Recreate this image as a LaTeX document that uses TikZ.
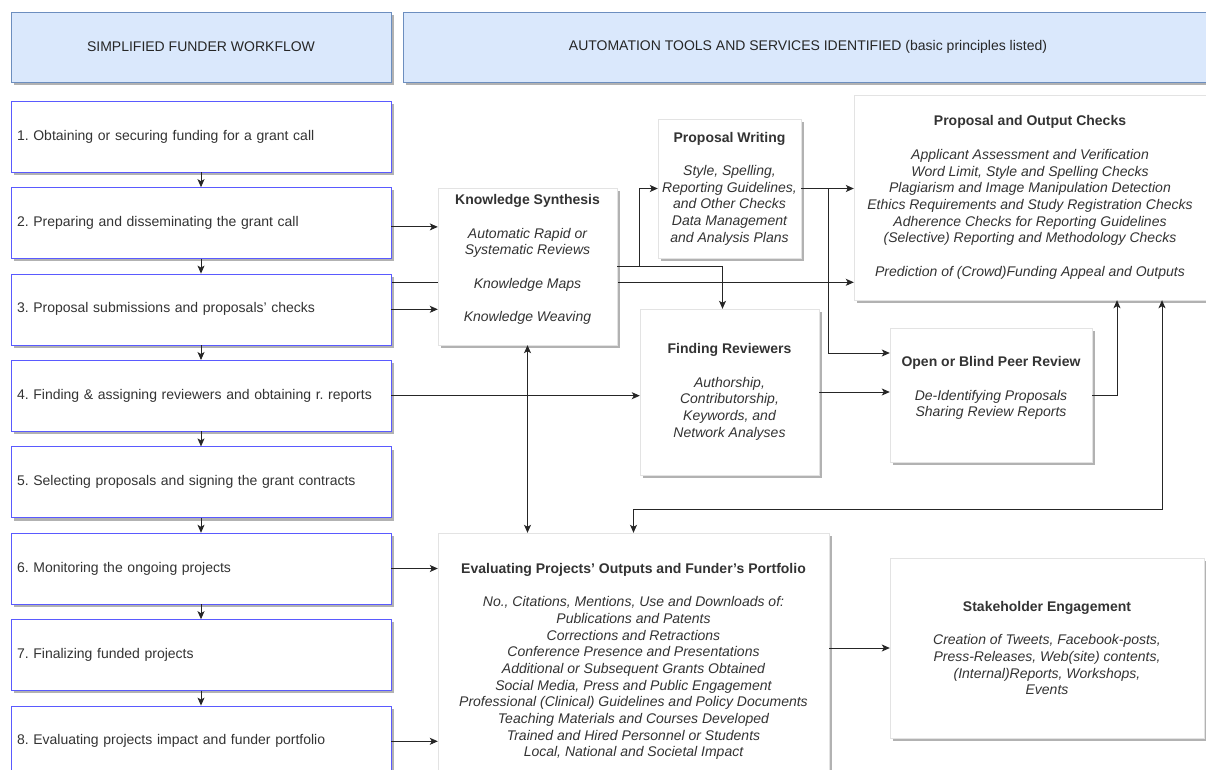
\documentclass[tikz,border=0pt]{standalone}
\usepackage{fontspec}
\setmainfont{Liberation Sans}
\usetikzlibrary{arrows.meta, positioning, shadows, backgrounds}
\definecolor{headfill}{HTML}{DAE8FC}
\definecolor{headline}{HTML}{6C8EBF}
\definecolor{stepline}{HTML}{5A5AFF}
\definecolor{toolline}{HTML}{E3E3E3}
\definecolor{textgray}{HTML}{333333}
\newcommand{\boxtitle}[1]{\textbf{\upshape #1}}
\frenchspacing

\begin{document}
\begin{tikzpicture}[
    x=1pt, y=-1pt,
    font=\fontsize{14}{16.7}\selectfont,
    >={Stealth[length=8pt, width=7pt, inset=2pt]},
    boxshadow/.style={drop shadow={shadow xshift=3pt, shadow yshift=-3pt, fill=black, opacity=0.3}},
    header/.style={rectangle, draw=headline, fill=headfill, boxshadow, minimum height=70pt, text=black!85},
    stepbox/.style={rectangle, draw=stepline, fill=white, boxshadow, minimum height=71pt, text width=368pt, inner xsep=6pt, align=left, text=textgray},
    toolbox/.style={rectangle, draw=toolline, fill=white, boxshadow, inner sep=1pt, align=center, text=textgray, font=\fontsize{14}{16.7}\selectfont\itshape},
    arrow/.style={->, line width=0.9pt, black!85}
]
\path[use as bounding box] (0,0) rectangle (1206,770);
\clip (0,0) rectangle (1206,770);

\node[header, minimum width=380pt] (hflow) at (201,47) {SIMPLIFIED FUNDER WORKFLOW};
\node[header, minimum width=810pt] (htools) at (808,47) {AUTOMATION TOOLS AND SERVICES IDENTIFIED (basic principles listed)};

\node[stepbox] (step1) at (201,136.5) {1. Obtaining or securing funding for a grant call};
\node[stepbox, below=15pt of step1] (step2) {2. Preparing and disseminating the grant call};
\node[stepbox, below=15pt of step2] (step3) {3. Proposal submissions and proposals' checks};
\node[stepbox, below=15pt of step3] (step4) {4. Finding \& assigning reviewers and obtaining r. reports};
\node[stepbox, below=15pt of step4] (step5) {5. Selecting proposals and signing the grant contracts};
\node[stepbox, below=15pt of step5] (step6) {6. Monitoring the ongoing projects};
\node[stepbox, below=15pt of step6] (step7) {7. Finalizing funded projects};
\node[stepbox, below=15pt of step7] (step8) {8. Evaluating projects impact and funder portfolio};

\node[toolbox, minimum width=179pt, minimum height=157pt] (ks) at (527.5,266.5)
    {\boxtitle{Knowledge Synthesis}\\[16.7pt]Automatic Rapid or\\Systematic Reviews\\[16.7pt]Knowledge Maps\\[16.7pt]Knowledge Weaving\\~};
\node[toolbox, minimum width=143pt, minimum height=139pt] (pw) at (729.5,188.5)
    {\boxtitle{Proposal Writing}\\[16.7pt]Style, Spelling,\\Reporting Guidelines,\\and Other Checks\\Data Management\\and Analysis Plans};
\node[toolbox, minimum width=352pt, minimum height=205pt] (poc) at (1030,197.5)
    {\boxtitle{Proposal and Output Checks}\\[16.7pt]Applicant Assessment and Verification\\Word Limit, Style and Spelling Checks\\Plagiarism and Image Manipulation Detection\\Ethics Requirements and Study Registration Checks\\Adherence Checks for Reporting Guidelines\\(Selective) Reporting and Methodology Checks\\[16.7pt]Prediction of (Crowd)Funding Appeal and Outputs};
\node[toolbox, minimum width=179pt, minimum height=166pt] (fr) at (729.5,392)
    {\boxtitle{Finding Reviewers}\\[16.7pt]Authorship,\\Contributorship,\\Keywords, and\\Network Analyses};
\node[toolbox, minimum width=202pt, minimum height=134pt] (obpr) at (991,395)
    {\boxtitle{Open or Blind Peer Review}\\[16.7pt]De-Identifying Proposals\\Sharing Review Reports\\~};
\node[toolbox, minimum width=391pt, minimum height=257pt] (eval) at (633.5,661.5)
    {\boxtitle{Evaluating Projects' Outputs and Funder's Portfolio}\\[16.7pt]No., Citations, Mentions, Use and Downloads of:\\Publications and Patents\\Corrections and Retractions\\Conference Presence and Presentations\\Additional or Subsequent Grants Obtained\\Social Media, Press and Public Engagement\\Professional (Clinical) Guidelines and Policy Documents\\Teaching Materials and Courses Developed\\Trained and Hired Personnel or Students\\Local, National and Societal Impact};
\node[toolbox, minimum width=314pt, minimum height=180pt] (se) at (1047,648)
    {\boxtitle{Stakeholder Engagement}\\[16.7pt]Creation of Tweets, Facebook-posts,\\Press-Releases, Web(site) contents,\\(Internal)Reports, Workshops,\\Events};

\draw[arrow] (step1) -- (step2);
\draw[arrow] (step2) -- (step3);
\draw[arrow] (step3) -- (step4);
\draw[arrow] (step4) -- (step5);
\draw[arrow] (step5) -- (step6);
\draw[arrow] (step6) -- (step7);
\draw[arrow] (step7) -- (step8);

\draw[arrow] ([yshift=-4pt]step2.east) -- ([yshift=-4pt]step2.east -| ks.west);
\begin{scope}[on background layer]
\draw[arrow] ([yshift=27pt]step3.east) -- ([yshift=27pt]step3.east -| poc.west);
\end{scope}
\draw[arrow] (step3.east) -- (step3.east -| ks.west);
\draw[arrow] (step4.east) -- (step4.east -| fr.west);
\draw[arrow] (step6.east) -- (step6.east -| eval.west);
\draw[arrow] (step8.east) -- (step8.east -| eval.west);
\draw[arrow, <->] (ks.south) -- (ks.south |- eval.north);

\draw[arrow] (ks.east) -- ++(22,0) |- (pw.west);
\draw[arrow] (ks.east) -| ([xshift=-7pt]fr.north);
\draw[arrow] (pw.east) -- (pw.east -| poc.west);
\draw[arrow] (pw.east) -- ++(27,0) |- ([yshift=42pt]obpr.west);
\draw[arrow] (fr.east) -- (fr.east -| obpr.west);
\draw[arrow] (obpr.east) -| ([xshift=87pt]poc.south);
\draw[arrow, <->] (eval.north) -- ++(0,-23) -| ([xshift=132pt]poc.south);
\draw[arrow] (se.west -| eval.east) -- (se.west);
\end{tikzpicture}
\end{document}
